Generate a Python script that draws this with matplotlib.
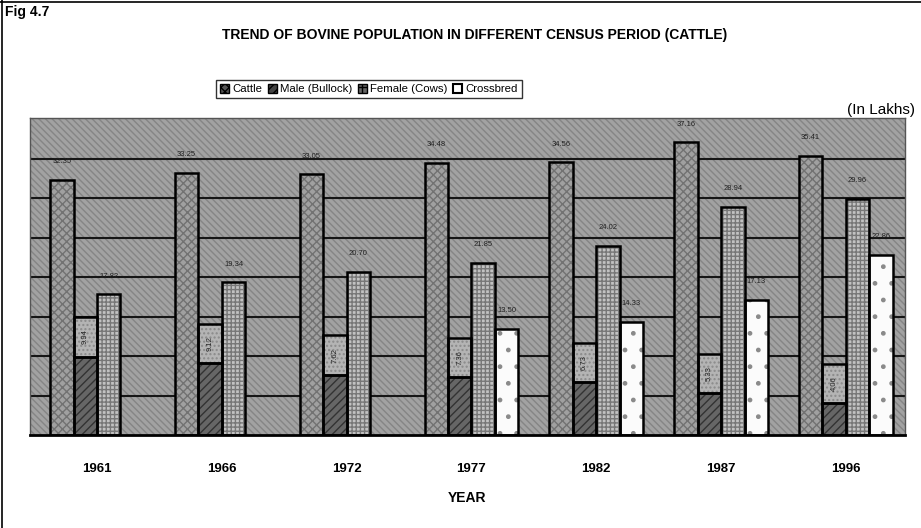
import numpy as np
import matplotlib
matplotlib.use("Agg")
import matplotlib.pyplot as plt
from matplotlib.patches import Rectangle, Patch

# census years and values (in lakhs)
years = ['1961', '1966', '1972', '1977', '1982', '1987', '1996']
cattle = [32.35, 33.25, 33.05, 34.48, 34.56, 37.16, 35.41]
male = [9.94, 9.12, 7.62, 7.36, 6.73, 5.33, 4.06]
female = [17.82, 19.34, 20.70, 21.85, 24.02, 28.94, 29.96]
crossbred = [0, 0, 0, 13.50, 14.33, 17.13, 22.86]

plt.rcParams['font.family'] = ['Liberation Sans', 'DejaVu Sans']

fig = plt.figure(figsize=(9.21, 5.28), dpi=100)
ax = fig.add_axes([30 / 921, 1 - 435 / 528, 875 / 921, 317 / 528])

x = np.arange(len(years))
w = 0.188
ax.set_xlim(-0.537, 6.474)
ax.set_ylim(0, 40.2)

# hatched grey background
ax.set_facecolor('#a2a2a2')
ax.add_patch(Rectangle((-0.537, 0), 7.011, 40.2, facecolor='none', edgecolor='#858585',
                       hatch='\\\\\\\\\\', linewidth=0, zorder=0))
for g in range(5, 40, 5):
    ax.axhline(g, color='#161616', linewidth=1.5, zorder=1)


def draw(pos, vals, fc, hatch, hc, bottom=0):
    # hatch first, then a black outline on top
    ax.bar(pos, vals, w, bottom=bottom, color=fc, edgecolor=hc, hatch=hatch, linewidth=0, zorder=2)
    ax.bar(pos, vals, w, bottom=bottom, color='none', edgecolor='black', linewidth=1.8, zorder=3)


draw(x - 1.5 * w, cattle, '#a0a0a0', 'xxxx', '#727272')
draw(x - 0.5 * w, male, '#666666', '////', '#333333')
draw(x + 0.5 * w, female, '#c2c2c2', '++++', '#777777')
cb = np.array(crossbred)
draw((x + 1.5 * w)[cb > 0], cb[cb > 0], '#fbfbfb', '.', '#8a8a8a')
# label boxes sitting on top of the bullock bars
draw(x - 0.5 * w, [5] * len(years), '#b4b4b4', '....', '#8a8a8a', bottom=male)

lab = dict(fontsize=5.5, ha='center', va='center', color='#222222')
for i in range(len(years)):
    ax.text(x[i] - 1.5 * w, min(cattle[i] + 2.3, 39.4), f'{cattle[i]:.2f}', **lab)
    ax.text(x[i] + 0.5 * w, female[i] + 2.3, f'{female[i]:.2f}', **lab)
    if crossbred[i] > 0:
        ax.text(x[i] + 1.5 * w, crossbred[i] + 2.3, f'{crossbred[i]:.2f}', **lab)
    ax.text(x[i] - 0.5 * w, male[i] + 2.5, f'{male[i]:.2f}', rotation=90, fontsize=5.5,
            ha='center', va='center', color='#222222', zorder=4)

ax.set_xticks(x)
ax.set_xticklabels(years, fontsize=9.5, fontweight='bold')
ax.tick_params(axis='x', length=0, pad=20)
ax.set_yticks([])
for s in ['top', 'right', 'left']:
    ax.spines[s].set_color('#555555')
    ax.spines[s].set_linewidth(1)
ax.spines['bottom'].set_linewidth(2)
ax.set_xlabel('YEAR', fontsize=10, fontweight='bold', labelpad=12)

handles = [Patch(facecolor='#555555', edgecolor='black', hatch='xxxx'),
           Patch(facecolor='#444444', edgecolor='black', hatch='////'),
           Patch(facecolor='#666666', edgecolor='black', hatch='++'),
           Patch(facecolor='white', edgecolor='black', linewidth=1.5)]
fig.legend(handles, ['Cattle', 'Male (Bullock)', 'Female (Cows)', 'Crossbred'],
           loc='center', bbox_to_anchor=(369 / 921, 1 - 89 / 528), ncol=4, fontsize=8.2,
           frameon=True, fancybox=False, edgecolor='black', handlelength=0.8,
           handleheight=0.8, handletextpad=0.3, columnspacing=0.45, borderpad=0.35)

fig.text(475 / 921, 1 - 35 / 528, 'TREND OF BOVINE POPULATION IN DIFFERENT CENSUS PERIOD (CATTLE)',
         ha='center', va='center', fontsize=10, fontweight='bold')
fig.text(5 / 921, 1 - 12 / 528, 'Fig 4.7', ha='left', va='center', fontsize=10, fontweight='bold')
fig.text(915 / 921, 1 - 110 / 528, '(In Lakhs)', ha='right', va='center', fontsize=11)

# page frame lines of the scan
fig.add_artist(plt.Line2D([2 / 921, 2 / 921], [0, 1], color='black', linewidth=1.2))
fig.add_artist(plt.Line2D([0, 1], [1 - 2 / 528, 1 - 2 / 528], color='black', linewidth=1.2))

fig.savefig('out.png', dpi=100)
